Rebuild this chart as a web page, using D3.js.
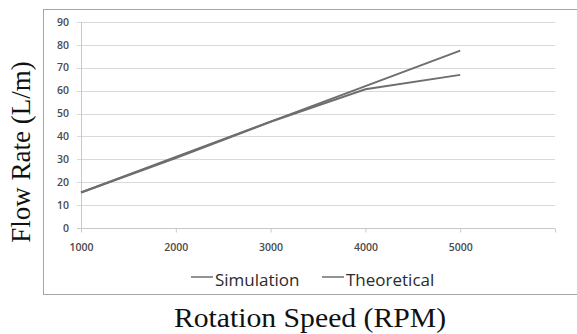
<!DOCTYPE html>
<html>
<head>
<meta charset="utf-8">
<script src="https://cdn.jsdelivr.net/npm/d3@7"></script>
<style>
  body { margin: 0; background: #fff; }
  svg { display: block; }
</style>
</head>
<body>
<script>
// data
const rpm = [1000, 2000, 3000, 4000, 5000];
const simulation = [15.5, 30.6, 46.4, 60.6, 66.9];
const theoretical = [15.5, 31.0, 46.5, 62.0, 77.5];
const xTicks = [1000, 2000, 3000, 4000, 5000, 6000];
const xTickLabels = ["1000", "2000", "3000", "4000", "5000", ""];
const yTicks = [0, 10, 20, 30, 40, 50, 60, 70, 80, 90];
const seriesNames = ["Simulation", "Theoretical"];

const width = 577, height = 334;
const svg = d3.select('body').append('svg')
    .attr('width', width)
    .attr('height', height);

// chart frame
svg.append('rect')
    .attr('x', 43.5)
    .attr('y', 9.5)
    .attr('width', 540)
    .attr('height', 285)
    .style('fill', 'none')
    .style('stroke', '#a6a6a6')
    .style('stroke-width', 1);

const x = d3.scaleLinear().domain([1000, 6000]).range([81, 555]);
const y = d3.scaleLinear().domain([0, 90]).range([228, 22]);

// grid
svg.append('g')
    .selectAll('line')
    .data(yTicks)
    .join('line')
    .attr('x1', 77)
    .attr('x2', x(6000))
    .attr('y1', d => Math.round(y(d)) + 0.5)
    .attr('y2', d => Math.round(y(d)) + 0.5)
    .style('stroke', d => d === 0 ? '#c8c8c8' : '#d9d9d9')
    .style('stroke-width', 1);

// y axis line
svg.append('line')
    .attr('x1', 81.5).attr('x2', 81.5)
    .attr('y1', y(90)).attr('y2', y(0))
    .style('stroke', '#c8c8c8');

// x axis ticks + labels
const xAxis = d3.axisBottom(x)
    .tickValues(xTicks)
    .tickFormat((d, i) => xTickLabels[i])
    .tickSize(4)
    .tickSizeOuter(0);

const gx = svg.append('g')
    .attr('transform', `translate(0,${Math.round(y(0)) + 0.5})`)
    .call(xAxis);
gx.select('.domain').remove();
gx.selectAll('line').style('stroke', '#c8c8c8');
gx.selectAll('text')
    .attr('y', 15)
    .style('font-family', '"Open Sans", sans-serif')
    .style('font-size', '10.5px')
    .style('font-weight', 600)
    .style('fill', '#4a4a4a');

// y labels
svg.append('g')
    .selectAll('text')
    .data(yTicks)
    .join('text')
    .attr('x', 69)
    .attr('y', d => y(d))
    .attr('dy', '0.35em')
    .attr('text-anchor', 'end')
    .style('font-family', '"Open Sans", sans-serif')
    .style('font-size', '10.5px')
    .style('font-weight', 600)
    .style('fill', '#4a4a4a')
    .text(d => d);

// lines
const line = d3.line()
    .x((d, i) => x(rpm[i]))
    .y(d => y(d));

[simulation, theoretical].forEach(vals => {
    svg.append('path')
        .datum(vals)
        .attr('d', line)
        .style('fill', 'none')
        .style('stroke', '#6e6e6e')
        .style('stroke-width', 2);
});

// legend
const legendX = [191, 322];
seriesNames.forEach((name, i) => {
    svg.append('line')
        .attr('x1', legendX[i]).attr('x2', legendX[i] + 22)
        .attr('y1', 277).attr('y2', 277)
        .style('stroke', '#6e6e6e')
        .style('stroke-width', 1.5);
    svg.append('text')
        .attr('x', legendX[i] + 24)
        .attr('y', 286)
        .style('font-family', '"Open Sans", sans-serif')
        .style('font-size', '17px')
        .style('fill', '#2a2a2a')
        .text(name);
});

// axis titles
svg.append('text')
    .attr('transform', 'translate(310,327) scale(1.1,1)')
    .attr('text-anchor', 'middle')
    .style('font-family', '"Liberation Serif", serif')
    .style('font-size', '27px')
    .style('fill', '#111')
    .text('Rotation Speed (RPM)');

svg.append('text')
    .attr('transform', 'translate(30,152) rotate(-90)')
    .attr('text-anchor', 'middle')
    .style('font-family', '"Liberation Serif", serif')
    .style('font-size', '27px')
    .style('fill', '#111')
    .text('Flow Rate (L/m)');
</script>
</body>
</html>
